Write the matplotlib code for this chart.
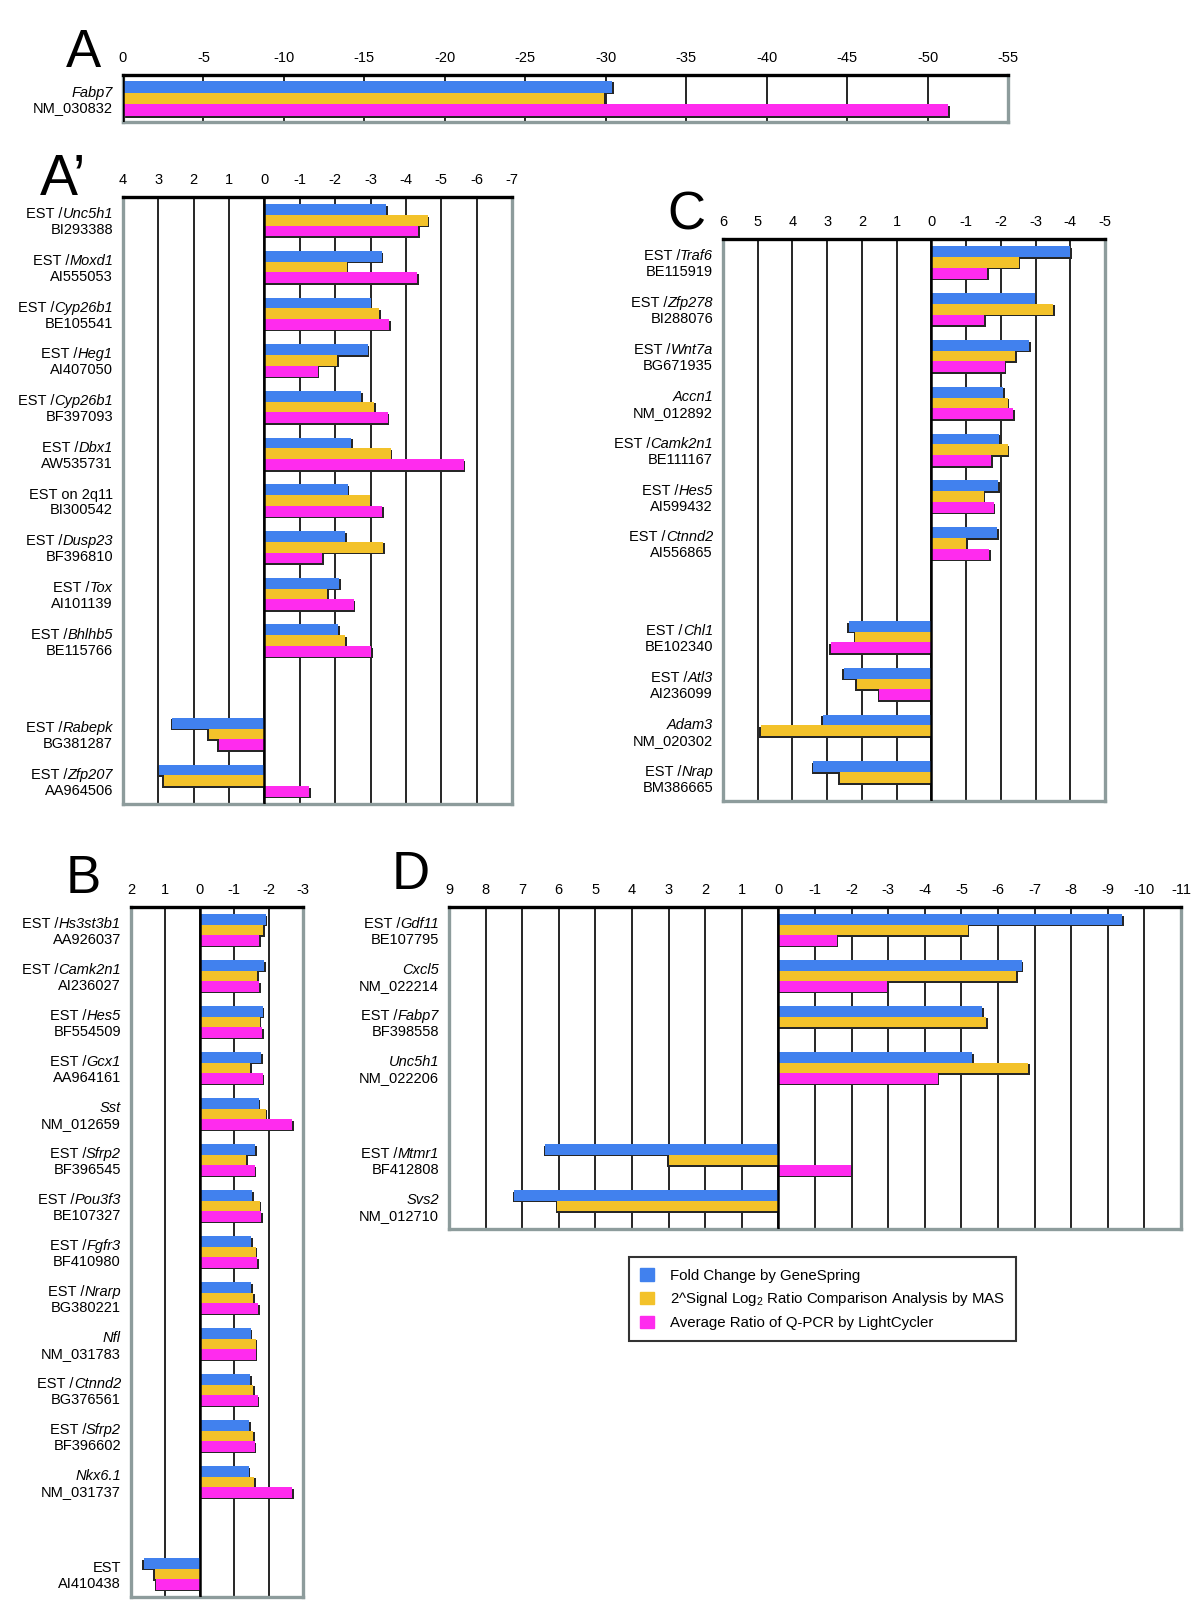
import numpy as np
import matplotlib
matplotlib.use('Agg')
import matplotlib.pyplot as plt
from matplotlib.patches import Patch

plt.rcParams['font.family'] = ['Liberation Sans', 'DejaVu Sans']
plt.rcParams['mathtext.fontset'] = 'custom'
plt.rcParams['mathtext.rm'] = 'Liberation Sans'
plt.rcParams['mathtext.it'] = 'Liberation Sans:italic'

# %%
# Data (negative = down-regulated, drawn to the right of 0)
series = ['Fold Change by GeneSpring',
          '2^Signal Log$_2$ Ratio Comparison Analysis by MAS',
          'Average Ratio of Q-PCR by LightCycler']
colors = ['#4181ee', '#f3c22a', '#ff2bee']

a_pre = ['']
a_gene = ['Fabp7']
a_acc = ['NM_030832']
a_fc = [-30.4]
a_mas = [-29.9]
a_pcr = [-51.3]

ap_pre = ['EST /', 'EST /', 'EST /', 'EST /', 'EST /', 'EST /',
          'EST on 2q11', 'EST /', 'EST /', 'EST /', 'EST /', 'EST /']
ap_gene = ['Unc5h1', 'Moxd1', 'Cyp26b1', 'Heg1', 'Cyp26b1', 'Dbx1', '',
           'Dusp23', 'Tox', 'Bhlhb5', 'Rabepk', 'Zfp207']
ap_acc = ['BI293388', 'AI555053', 'BE105541', 'AI407050', 'BF397093',
          'AW535731', 'BI300542', 'BF396810', 'AI101139', 'BE115766',
          'BG381287', 'AA964506']
ap_fc = [-3.44, -3.31, -3.0, -2.92, -2.74, -2.45, -2.35, -2.28, -2.11, -2.08,
         2.61, 2.99]
ap_mas = [-4.62, -2.33, -3.25, -2.06, -3.11, -3.57, -2.98, -3.35, -1.78,
          -2.28, 1.58, 2.85]
ap_pcr = [-4.35, -4.32, -3.52, -1.51, -3.49, -5.63, -3.33, -1.63, -2.52,
          -3.02, 1.29, -1.26]

c_pre = ['EST /', 'EST /', 'EST /', '', 'EST /', 'EST /', 'EST /', 'EST /',
         'EST /', '', 'EST /']
c_gene = ['Traf6', 'Zfp278', 'Wnt7a', 'Accn1', 'Camk2n1', 'Hes5', 'Ctnnd2',
          'Chl1', 'Atl3', 'Adam3', 'Nrap']
c_acc = ['BE115919', 'BI288076', 'BG671935', 'NM_012892', 'BE111167',
         'AI599432', 'AI556865', 'BE102340', 'AI236099', 'NM_020302',
         'BM386665']
c_fc = [-3.99, -2.98, -2.81, -2.07, -1.94, -1.92, -1.89, 2.38, 2.52, 3.12, 3.4]
c_mas = [-2.52, -3.5, -2.42, -2.2, -2.2, -1.51, -1.01, 2.19, 2.15, 4.91, 2.63]
c_pcr = [-1.61, -1.53, -2.11, -2.36, -1.72, -1.8, -1.67, 2.89, 1.5, np.nan,
         np.nan]

b_pre = ['EST /', 'EST /', 'EST /', 'EST /', '', 'EST /', 'EST /', 'EST /',
         'EST /', '', 'EST /', 'EST /', '', 'EST']
b_gene = ['Hs3st3b1', 'Camk2n1', 'Hes5', 'Gcx1', 'Sst', 'Sfrp2', 'Pou3f3',
          'Fgfr3', 'Nrarp', 'Nfl', 'Ctnnd2', 'Sfrp2', 'Nkx6.1', '']
b_acc = ['AA926037', 'AI236027', 'BF554509', 'AA964161', 'NM_012659',
         'BF396545', 'BE107327', 'BF410980', 'BG380221', 'NM_031783',
         'BG376561', 'BF396602', 'NM_031737', 'AI410438']
b_fc = [-1.91, -1.87, -1.83, -1.79, -1.71, -1.61, -1.53, -1.5, -1.5, -1.48,
        -1.47, -1.43, -1.42, 1.62]
b_mas = [-1.85, -1.67, -1.74, -1.47, -1.92, -1.35, -1.74, -1.62, -1.55, -1.62,
         -1.55, -1.55, -1.58, 1.31]
b_pcr = [-1.73, -1.73, -1.81, -1.83, -2.69, -1.6, -1.79, -1.67, -1.69, -1.63,
         -1.68, -1.6, -2.69, 1.26]

d_pre = ['EST /', '', 'EST /', '', 'EST /', '']
d_gene = ['Gdf11', 'Cxcl5', 'Fabp7', 'Unc5h1', 'Mtmr1', 'Svs2']
d_acc = ['BE107795', 'NM_022214', 'BF398558', 'NM_022206', 'BF412808',
         'NM_012710']
d_fc = [-9.4, -6.65, -5.57, -5.29, 6.37, 7.22]
d_mas = [-5.17, -6.5, -5.67, -6.83, 3.0, 6.04]
d_pcr = [-1.59, -2.97, np.nan, -4.35, -1.97, np.nan]

# %%
W, H = 1200, 1612
fig = plt.figure(figsize=(W / 100, H / 100), dpi=100)
renderer = fig.canvas.get_renderer()
GREY = '#8d9c9c'
FS = 10.5


def add_box(left, top, right, bottom):
    return fig.add_axes([left / W, 1 - bottom / H, (right - left) / W,
                         (bottom - top) / H])


def draw_panel(ax, pre, genes, accs, vals, ticks, gap_at=None, bar_h=0.23):
    n = len(genes)
    ys = np.arange(n, dtype=float)
    nslots = n
    if gap_at is not None:
        ys[gap_at:] += 1
        nslots += 1
    ax.set_xlim(ticks[0], ticks[-1])
    ax.set_ylim(nslots - 0.5, -0.5)
    bb = ax.get_window_extent()
    dx = 1.6 / (bb.width / abs(ticks[0] - ticks[-1]))
    dy = 1.6 / (bb.height / nslots)
    for k, (v, col) in enumerate(zip(vals, colors)):
        v = np.array(v, float)
        yc = ys + (k - 1) * bar_h
        ok = ~np.isnan(v)
        ax.barh(yc[ok] + dy, v[ok] + np.sign(v[ok]) * dx, height=bar_h,
                color='#262626', lw=0, zorder=2)
        ax.barh(yc[ok], v[ok], height=bar_h, color=col, lw=0, zorder=3)
    ax.axvline(0, color='black', lw=1.8, zorder=4)
    ax.set_xticks(ticks)
    ax.set_xticklabels([str(t) for t in ticks])
    ax.xaxis.tick_top()
    ax.tick_params(axis='x', length=0, pad=7, labelsize=10.5)
    ax.set_yticks([])
    ax.grid(axis='x', color='black', lw=1.2)
    ax.set_axisbelow(True)
    for s in ['left', 'right', 'bottom']:
        ax.spines[s].set_color(GREY)
        ax.spines[s].set_linewidth(2.4)
    ax.spines['top'].set_color('black')
    ax.spines['top'].set_linewidth(2.4)
    tr = ax.get_yaxis_transform()
    for y, p, g, acc in zip(ys, pre, genes, accs):
        off = -10
        if g:
            t = ax.annotate(g, xy=(0, y), xycoords=tr, xytext=(off, 2),
                            textcoords='offset pixels', ha='right',
                            va='baseline', fontsize=FS, fontstyle='italic',
                            annotation_clip=False)
            off -= t.get_window_extent(renderer).width
        if p:
            ax.annotate(p, xy=(0, y), xycoords=tr, xytext=(off, 2),
                        textcoords='offset pixels', ha='right', va='baseline',
                        fontsize=FS, annotation_clip=False)
        ax.annotate(acc, xy=(0, y), xycoords=tr, xytext=(-10, -14),
                    textcoords='offset pixels', ha='right', va='baseline',
                    fontsize=FS, annotation_clip=False)


def letter(x, y, s, size=38):
    fig.text(x / W, 1 - y / H, s, fontsize=size, ha='left', va='baseline')


ax = add_box(123, 75, 1008, 122)
draw_panel(ax, a_pre, a_gene, a_acc, (a_fc, a_mas, a_pcr),
           list(range(0, -56, -5)), bar_h=0.25)
letter(66, 67, 'A')

ax = add_box(123, 197, 512, 804)
draw_panel(ax, ap_pre, ap_gene, ap_acc, (ap_fc, ap_mas, ap_pcr),
           list(range(4, -8, -1)), gap_at=10)
letter(40, 195, 'A\u2019', size=41)

ax = add_box(723, 239, 1105, 801)
draw_panel(ax, c_pre, c_gene, c_acc, (c_fc, c_mas, c_pcr),
           list(range(6, -6, -1)), gap_at=7)
letter(667, 229, 'C')

ax = add_box(131, 907, 303, 1597)
draw_panel(ax, b_pre, b_gene, b_acc, (b_fc, b_mas, b_pcr),
           list(range(2, -4, -1)), gap_at=13)
letter(66, 893, 'B')

ax = add_box(449, 907, 1181, 1229)
draw_panel(ax, d_pre, d_gene, d_acc, (d_fc, d_mas, d_pcr),
           list(range(9, -12, -1)), gap_at=4)
letter(392, 889, 'D')

handles = [Patch(color=c) for c in colors]
leg = fig.legend(handles, series, loc='upper left',
                 bbox_to_anchor=(629 / W, 1 - 1257 / H), fontsize=10.8,
                 frameon=True, fancybox=False, edgecolor='black',
                 handlelength=0.9, handleheight=0.9, handletextpad=1.1,
                 labelspacing=0.5, borderpad=0.75, borderaxespad=0)
leg.get_frame().set_linewidth(1.5)

fig.savefig('out.png', dpi=100)
